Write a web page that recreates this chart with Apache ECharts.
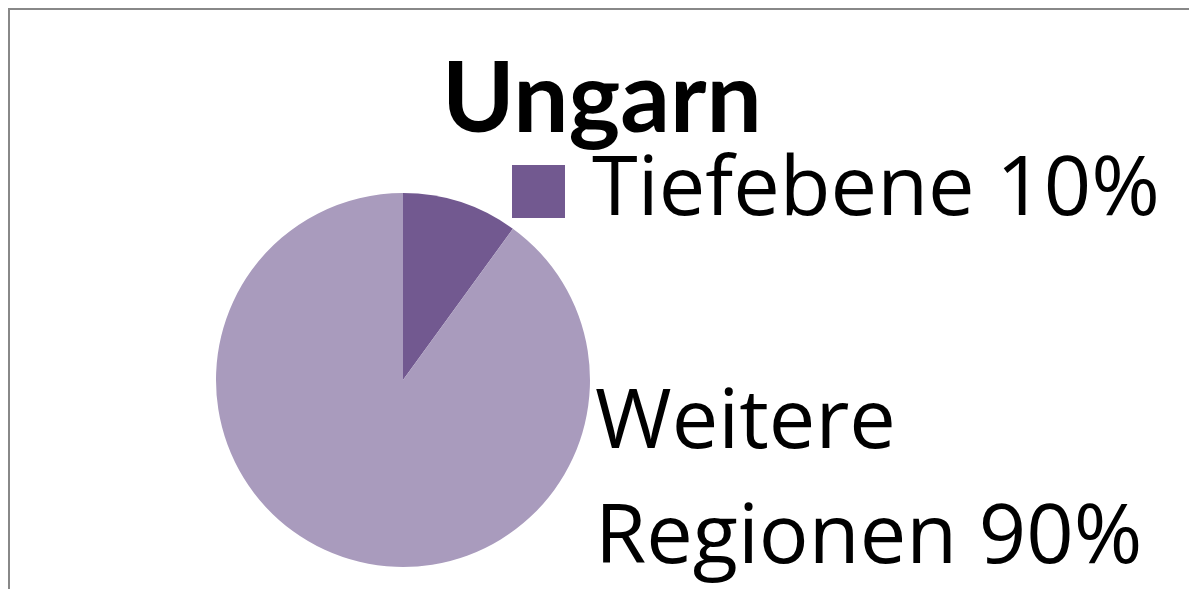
<!DOCTYPE html>
<html>
<head>
<meta charset="utf-8">
<script src="https://cdn.jsdelivr.net/npm/echarts@6/dist/echarts.min.js"></script>
<style>
  html, body { margin: 0; padding: 0; background: #fff; }
  #chart { width: 1189px; height: 589px; }
</style>
</head>
<body>
<div id="chart"></div>
<script>
// data
const regions = ['Tiefebene', 'Weitere Regionen']
const shares = [10, 90]
const sliceColors = ['#725990', '#A99BBD']

const total = shares.reduce((a, b) => a + b, 0)
const pct = name => Math.round(shares[regions.indexOf(name)] / total * 100) + '%'

const chart = echarts.init(document.getElementById('chart'))
chart.setOption({
  animation: false,
  graphic: [{
    type: 'rect',
    shape: { x: 9, y: 9, width: 1400, height: 800 },
    style: { fill: 'none', stroke: '#888', lineWidth: 2 }
  }],
  title: {
    text: 'Ungarn',
    left: 437,
    top: 46,
    textStyle: { fontFamily: 'Lato', fontWeight: 'bold', fontSize: 98, color: '#000' }
  },
  legend: {
    data: [regions[0]],
    left: 507,
    top: 145,
    icon: 'rect',
    itemWidth: 53,
    itemHeight: 53,
    formatter: name => name + ' ' + pct(name),
    textStyle: { fontFamily: 'Open Sans', fontSize: 83, color: '#000', padding: [0, 0, 0, 22] }
  },
  series: [{
    type: 'pie',
    center: [403, 380],
    radius: 187,
    startAngle: 90,
    clockwise: true,
    silent: true,
    labelLine: { show: false },
    data: regions.map((r, i) => ({
      name: r,
      value: shares[i],
      itemStyle: { color: sliceColors[i] },
      label: i === 0 ? { show: false } : {
        show: true,
        position: 'center',
        formatter: 'Weitere\nRegionen ' + pct(r),
        fontFamily: 'Open Sans',
        fontSize: 83,
        lineHeight: 115,
        color: '#000'
      }
    })),
    labelLayout: params => params.dataIndex === 1 ? { x: 595, y: 482, align: 'left', verticalAlign: 'middle' } : {}
  }]
})
</script>
</body>
</html>
